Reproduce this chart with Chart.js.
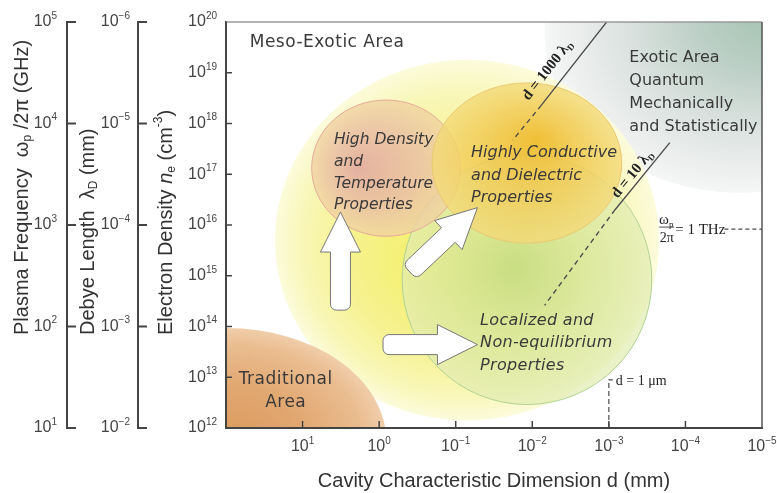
<!DOCTYPE html>
<html>
<head>
<meta charset="utf-8">
<script src="https://cdn.jsdelivr.net/npm/chart.js@4.4.1/dist/chart.umd.min.js"></script>
<style>
  html, body { margin: 0; padding: 0; background: #fff; }
</style>
</head>
<body>
<canvas id="c" width="777" height="493"></canvas>
<script>
// d in mm (x, reversed log), electron density n_e in cm^-3 (y, log)
// tick labels are written as 10^exponent
const xTicks = [1e1, 1e0, 1e-1, 1e-2, 1e-3, 1e-4, 1e-5];
const xTickLabels = ["1", "0", "-1", "-2", "-3", "-4", "-5"];
const nTicks = [1e12, 1e13, 1e14, 1e15, 1e16, 1e17, 1e18, 1e19, 1e20];
const nTickLabels = ["12", "13", "14", "15", "16", "17", "18", "19", "20"];
const fTicks = [1e1, 1e2, 1e3, 1e4, 1e5];                 // plasma frequency, GHz
const fTickLabels = ["1", "2", "3", "4", "5"];
const dbTicks = [1e-2, 1e-3, 1e-4, 1e-5, 1e-6];           // Debye length, mm
const dbTickLabels = ["-2", "-3", "-4", "-5", "-6"];

// boundary lines
const line1000Solid = [{x: 1.07e-3, y: 1e20}, {x: 7.6e-3, y: 2.3e18}];
const line1000Dash  = [{x: 7.6e-3, y: 2.3e18}, {x: 1.8e-2, y: 4.7e17}];
const line10Solid   = [{x: 1.6e-4, y: 4.2e17}, {x: 8.3e-4, y: 2.0e16}];
const line10Dash    = [{x: 8.3e-4, y: 2.0e16}, {x: 6.9e-3, y: 2.6e14}];
const thzLine       = [{x: 3.1e-5, y: 8.3e15}, {x: 1e-5, y: 8.3e15}];
const micronLine    = [{x: 1e-3, y: 1e12}, {x: 1e-3, y: 8.9e12}, {x: 8.9e-4, y: 8.9e12}];

// regions: extent in d (left -> right) and n (low -> high)
const regionNames = ["exotic", "meso", "traditional", "localized", "highDensity", "conductive"];
const regionD = [[6.9e-3, 5.5e-8], [22.9, 2.2e-4], [1.2e4, 0.81], [0.50, 2.75e-4], [7.6, 8.7e-2], [0.204, 6.8e-4]];
const regionN = [[4.3e16, 1.1e23], [1.4e12, 1.8e19], [3.5e9, 9.3e13], [2.9e12, 2.4e17], [6.0e15, 2.9e18], [4.4e15, 6.3e18]];

// arrows: tail -> tip
const arrowTail = [{x: 3.2, y: 2.1e14}, {x: 0.40, y: 1.2e15}, {x: 0.89, y: 4.4e13}];
const arrowTip  = [{x: 3.2, y: 1.8e16}, {x: 5.2e-2, y: 2.2e16}, {x: 5.2e-2, y: 4.4e13}];

const SANS = "'Liberation Sans', Arial, sans-serif";
const LABEL = "'DejaVu Sans', sans-serif";
const SERIF = "'Liberation Serif', 'Times New Roman', serif";
const INK = "#3a3a3a";

const regionStyle = {
  exotic:      {f: [0.2, -0.15], stops: [[0, "#a0c2ae"], [0.35, "#bccfc6"], [0.65, "#dbe2df"], [0.9, "#eef0ef"], [1, "#f5f6f6"]]},
  traditional: {f: [0, 0], stops: [[0, "#db9a5c"], [0.5, "#e2a872"], [0.85, "#eabd90"], [1, "#f0cdaa"]]},
  meso:        {f: [-0.2, 0.15], stops: [[0, "#f4ef68"], [0.55, "#f6f292"], [0.85, "#f9f7bb"], [1, "#fcfbdc"]]},
  localized:   {f: [-0.1, -0.1], stops: [[0, "rgba(190,216,130,0.8)"], [0.5, "rgba(210,228,155,0.72)"], [1, "rgba(226,236,178,0.72)"]], stroke: "#b0d392"},
  highDensity: {f: [-0.4, 0], stops: [[0, "rgba(226,170,160,0.9)"], [0.6, "rgba(234,192,165,0.85)"], [1, "rgba(240,212,160,0.8)"]], stroke: "#e6a99a"},
  conductive:  {f: [0.1, -0.3], stops: [[0, "rgba(239,186,44,0.92)"], [0.5, "rgba(241,202,84,0.85)"], [1, "rgba(243,218,122,0.8)"]], stroke: "#ebc870"},
};

// text annotations anchored in data space
const blocks = [
  {lines: ["Meso-Exotic Area"], d: 49, n: 3.9e19, font: "17px " + LABEL, spacing: "0.5px", gap: 23, align: "left"},
  {lines: ["Exotic Area", "Quantum", "Mechanically", "and Statistically"], d: 5.4e-4, n: 1.95e19, font: "16px " + LABEL, spacing: "0px", gap: 23, align: "left"},
  {lines: ["High Density", "and", "Temperature", "Properties"], d: 3.9, n: 4.7e17, font: "italic 15.5px " + LABEL, spacing: "0px", gap: 21.7, align: "left"},
  {lines: ["Highly Conductive", "and Dielectric", "Properties"], d: 6.3e-2, n: 2.6e17, font: "italic 16px " + LABEL, spacing: "0px", gap: 22.5, align: "left"},
  {lines: ["Localized and", "Non-equilibrium", "Properties"], d: 4.8e-2, n: 1.3e14, font: "italic 16px " + LABEL, spacing: "0.3px", gap: 22.5, align: "left"},
  {lines: ["Traditional", "Area"], d: 16.6, n: 8.9e12, font: "17px " + LABEL, spacing: "0.5px", gap: 23, align: "center"},
];

function richText(c, parts, size, family, align, weight) {
  const fonts = parts.map(p => {
    const small = p[1] === "sub" || p[1] === "sup";
    return [p[1] === "i" ? "italic" : "", weight || "", Math.round(small ? size * 0.62 : size) + "px", family].filter(Boolean).join(" ");
  });
  const widths = parts.map((p, i) => { c.font = fonts[i]; return c.measureText(p[0]).width; });
  const total = widths.reduce((s, w) => s + w, 0);
  let x = align === "center" ? -total / 2 : (align === "right" ? -total : 0);
  c.textAlign = "left";
  c.textBaseline = "middle";
  parts.forEach((p, i) => {
    c.font = fonts[i];
    const dy = p[1] === "sub" ? size * 0.3 : (p[1] === "sup" ? -size * 0.36 : 0);
    c.fillText(p[0], x, dy);
    x += widths[i];
  });
}

function powLabel(c, exp, x, y, align) {
  c.save();
  c.translate(x, y);
  richText(c, [["10", ""], [exp.replace("-", "\u2212"), "sup"]], 16, SANS, align);
  c.restore();
}

function pt(chart, d, n) {
  return {x: chart.scales.x.getPixelForValue(d), y: chart.scales.y.getPixelForValue(n)};
}

function drawRegion(chart, i) {
  const c = chart.ctx, st = regionStyle[regionNames[i]];
  const p0 = pt(chart, regionD[i][0], regionN[i][0]), p1 = pt(chart, regionD[i][1], regionN[i][1]);
  const cx = (p0.x + p1.x) / 2, cy = (p0.y + p1.y) / 2;
  const rx = Math.abs(p1.x - p0.x) / 2, ry = Math.abs(p1.y - p0.y) / 2;
  c.save();
  c.translate(cx, cy);
  c.scale(rx, ry);
  const g = c.createRadialGradient(st.f[0], st.f[1], 0, 0, 0, 1);
  st.stops.forEach(s => g.addColorStop(s[0], s[1]));
  c.fillStyle = g;
  c.beginPath();
  c.arc(0, 0, 1, 0, Math.PI * 2);
  c.fill();
  c.restore();
  if (st.stroke) {
    c.save();
    c.strokeStyle = st.stroke;
    c.lineWidth = 1;
    c.beginPath();
    c.ellipse(cx, cy, rx, ry, 0, 0, Math.PI * 2);
    c.stroke();
    c.restore();
  }
}

function drawArrow(chart, i) {
  const c = chart.ctx;
  const T = pt(chart, arrowTail[i].x, arrowTail[i].y), P = pt(chart, arrowTip[i].x, arrowTip[i].y);
  const L = Math.hypot(P.x - T.x, P.y - T.y);
  const u = {x: (P.x - T.x) / L, y: (P.y - T.y) / L}, q = {x: -u.y, y: u.x};
  const head = 40, hw = 20, sw = 10;
  const at = (base, a, b) => ({x: base.x + u.x * a + q.x * b, y: base.y + u.y * a + q.y * b});
  const hb1 = at(P, -head, hw), hs1 = at(P, -head, sw), t1 = at(T, 0, sw);
  const t2 = at(T, 0, -sw), hs2 = at(P, -head, -sw), hb2 = at(P, -head, -hw);
  c.save();
  c.beginPath();
  c.moveTo(P.x, P.y);
  c.lineTo(hb1.x, hb1.y);
  c.lineTo(hs1.x, hs1.y);
  c.arcTo(t1.x, t1.y, t2.x, t2.y, 6);
  c.arcTo(t2.x, t2.y, hs2.x, hs2.y, 6);
  c.lineTo(hs2.x, hs2.y);
  c.lineTo(hb2.x, hb2.y);
  c.closePath();
  c.fillStyle = "#ffffff";
  c.fill();
  c.strokeStyle = "#777";
  c.lineWidth = 1;
  c.stroke();
  c.restore();
}

function lineLabel(chart, seg, d, n, parts) {
  const c = chart.ctx;
  const a = pt(chart, seg[0].x, seg[0].y), b = pt(chart, seg[1].x, seg[1].y);
  const p = pt(chart, d, n);
  c.save();
  c.translate(p.x, p.y);
  c.rotate(Math.atan2(a.y - b.y, a.x - b.x));
  c.fillStyle = "#222";
  richText(c, parts, 15, SERIF, "center", "bold");
  c.restore();
}

const diagram = {
  id: "diagram",
  beforeDatasetsDraw(chart) {
    const c = chart.ctx, a = chart.chartArea;
    c.save();
    c.beginPath();
    c.rect(a.left, a.top, a.right - a.left, a.bottom - a.top);
    c.clip();
    regionNames.forEach((_, i) => drawRegion(chart, i));
    c.restore();
  },
  afterDatasetsDraw(chart) {
    const c = chart.ctx;
    arrowTail.forEach((_, i) => drawArrow(chart, i));

    c.save();
    c.fillStyle = INK;
    c.textBaseline = "middle";
    blocks.forEach(b => {
      const p = pt(chart, b.d, b.n);
      c.font = b.font;
      c.letterSpacing = b.spacing;
      c.textAlign = b.align;
      b.lines.forEach((t, k) => c.fillText(t, p.x, p.y + k * b.gap));
    });
    c.letterSpacing = "0px";
    c.restore();

    lineLabel(chart, line1000Solid, 6.3e-3, 1.12e19, [["d = 1000 λ", ""], ["D", "sub"]]);
    lineLabel(chart, line10Solid, 4.9e-4, 1.0e17, [["d = 10 λ", ""], ["D", "sub"]]);

    // omega_p / 2pi = 1 THz
    const t = pt(chart, 2.2e-4, 8.3e15);
    c.save();
    c.fillStyle = "#222";
    c.translate(t.x, t.y);
    c.save(); c.translate(7, -9); richText(c, [["ω", ""], ["p", "sub"]], 15, SERIF, "center"); c.restore();
    c.strokeStyle = "#222"; c.lineWidth = 0.8;
    c.beginPath(); c.moveTo(0, -2); c.lineTo(15, -2); c.stroke();
    c.save(); c.translate(7.5, 9); richText(c, [["2π", ""]], 14, SERIF, "center"); c.restore();
    c.save(); c.translate(16, 1); richText(c, [["= 1 THz", ""]], 14.5, SERIF, "left"); c.restore();
    c.restore();

    const m = pt(chart, 8.1e-4, 8.5e12);
    c.save();
    c.fillStyle = "#222";
    c.translate(m.x, m.y);
    richText(c, [["d = 1 μm", ""]], 14, SERIF, "left");
    c.restore();
  },
  afterDraw(chart) {
    const c = chart.ctx, a = chart.chartArea, s = chart.scales;
    const seg = (x1, y1, x2, y2) => { c.beginPath(); c.moveTo(x1, y1); c.lineTo(x2, y2); c.stroke(); };
    c.save();
    // frame
    c.lineWidth = 1.5;
    c.strokeStyle = "#9a9a9a";
    seg(a.left, a.top, a.right, a.top);
    c.strokeStyle = "#555";
    seg(a.right, a.top, a.right, a.bottom);
    c.lineWidth = 2;
    c.strokeStyle = "#444";
    seg(a.left, a.top, a.left, a.bottom);
    seg(a.left, a.bottom, a.right, a.bottom);
    // inward ticks
    c.lineWidth = 1.5;
    xTicks.slice(0, -1).forEach(v => { const X = s.x.getPixelForValue(v); seg(X, a.bottom, X, a.bottom - 7); });
    nTicks.slice(1, -1).forEach(v => { const Y = s.y.getPixelForValue(v); seg(a.left, Y, a.left + 6, Y); });
    c.lineWidth = 2;
    fTicks.forEach(v => { const Y = s.yf.getPixelForValue(v); seg(s.yf.right, Y, s.yf.right + 9, Y); });
    dbTicks.forEach(v => { const Y = s.yd.getPixelForValue(v); seg(s.yd.right, Y, s.yd.right + 9, Y); });

    // tick labels, 10 with superscript exponent
    c.fillStyle = "#444";
    xTicks.forEach((v, i) => powLabel(c, xTickLabels[i], s.x.getPixelForValue(v), a.bottom + 19, "center"));
    nTicks.forEach((v, i) => powLabel(c, nTickLabels[i], s.y.right - 9, s.y.getPixelForValue(v), "right"));
    fTicks.forEach((v, i) => powLabel(c, fTickLabels[i], s.yf.right - 10, s.yf.getPixelForValue(v), "right"));
    dbTicks.forEach((v, i) => powLabel(c, dbTickLabels[i], s.yd.right - 8, s.yd.getPixelForValue(v), "right"));

    // rotated axis titles
    c.fillStyle = "#333";
    const titles = [
      {x: s.yf.left + 22, parts: [["Plasma Frequency  ω", ""], ["p", "sub"], [" /2π (GHz)", ""]]},
      {x: s.yd.left + 21, parts: [["Debye Length  λ", ""], ["D", "sub"], [" (mm)", ""]]},
      {x: s.y.left + 28, parts: [["Electron Density ", ""], ["n", "i"], ["e", "sub"], [" (cm", ""], ["-3", "sup"], [")", ""]]},
    ];
    titles.forEach(t => {
      c.save();
      c.translate(t.x, 335);
      c.rotate(-Math.PI / 2);
      richText(c, t.parts, 20, SANS, "left");
      c.restore();
    });
    c.restore();
  }
};

const axisBase = {
  type: "logarithmic",
  grid: {display: true, drawOnChartArea: false, drawTicks: false},
  border: {display: true, color: "#444", width: 2},
  ticks: {display: false},
};

function leftAxis(min, max, ticks, width, weight, reverse) {
  return Object.assign({}, axisBase, {
    position: "left", min, max, reverse: !!reverse, weight,
    afterBuildTicks: sc => { sc.ticks = ticks.map(v => ({value: v})); },
    afterFit: sc => { sc.width = width; sc.paddingTop = 0; sc.paddingBottom = 0; },
  });
}

const solid = {showLine: true, pointRadius: 0, borderColor: "#4a4a4a", borderWidth: 1.3, fill: false};
const dashed = Object.assign({}, solid, {borderDash: [5, 4]});

new Chart(document.getElementById("c"), {
  type: "scatter",
  data: {
    datasets: [
      Object.assign({data: line1000Solid}, solid),
      Object.assign({data: line1000Dash}, dashed),
      Object.assign({data: line10Solid}, solid),
      Object.assign({data: line10Dash}, dashed),
      Object.assign({data: thzLine}, dashed, {borderDash: [4, 3], borderWidth: 1.2}),
      Object.assign({data: micronLine}, dashed, {borderDash: [5, 3], borderWidth: 1.2}),
    ]
  },
  options: {
    responsive: false,
    animation: false,
    devicePixelRatio: 1,
    layout: {padding: {top: 22, right: 15, left: 0, bottom: 0}},
    plugins: {legend: {display: false}, tooltip: {enabled: false}},
    scales: {
      x: Object.assign({}, axisBase, {
        position: "bottom", min: 1e-5, max: 1e2, reverse: true,
        title: {display: true, text: "Cavity Characteristic Dimension d (mm)", color: "#333", font: {family: SANS, size: 20}, padding: {top: 0, bottom: 0}},
        afterBuildTicks: sc => { sc.ticks = xTicks.map(v => ({value: v})); },
        afterFit: sc => { sc.height = 65; sc.paddingLeft = 0; sc.paddingRight = 0; },
      }),
      y: leftAxis(1e12, 1e20, nTicks, 88, 0),
      yd: leftAxis(1e-6, 1e-2, dbTicks, 71, 1, true),
      yf: leftAxis(1e1, 1e5, fTicks, 67, 2),
    }
  },
  plugins: [diagram]
});
</script>
</body>
</html>
